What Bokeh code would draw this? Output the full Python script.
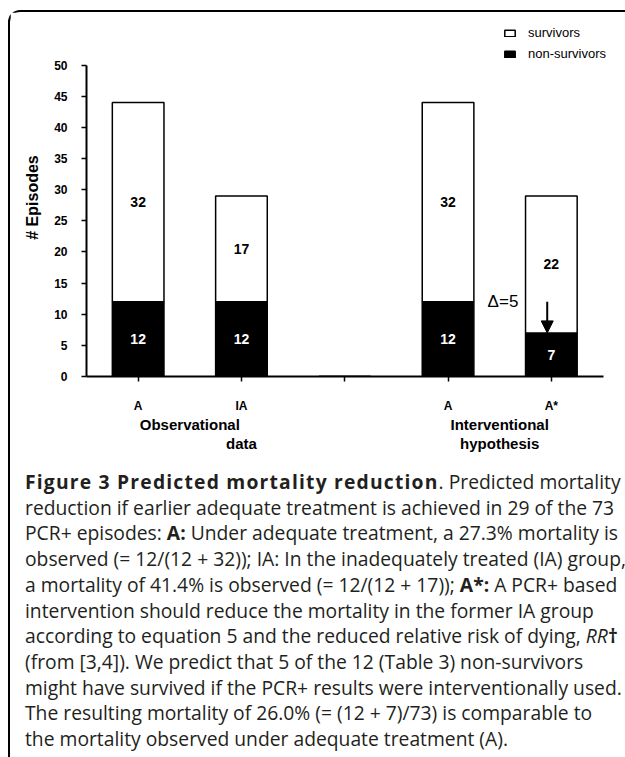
from bokeh.plotting import figure
from bokeh.models import (Range1d, FixedTicker, Label, Arrow, NormalHead, Legend,
                          LegendItem, ColumnDataSource, Div, LinearAxis)
from bokeh.layouts import column
from bokeh.embed import file_html
from bokeh.resources import INLINE
from bokeh.core.properties import value

# ---------------- data ----------------
categories = ["A", "IA", "", "A", "A*"]
non_survivors = [12, 12, 0, 12, 7]
survivors = [32, 17, 0, 32, 22]
y_ticks = [0, 5, 10, 15, 20, 25, 30, 35, 40, 45, 50]
group_top = ["Observational", "Interventional"]
group_bottom = ["data", "hypothesis"]
delta_from = 12   # non-survivors IA (observed)
delta_to = 7      # non-survivors A* (predicted)

FONT = "Liberation Sans"

x = list(range(1, len(categories) + 1))
src = ColumnDataSource(dict(x=x, non_survivors=non_survivors, survivors=survivors))

p = figure(width=614, height=444, output_backend="svg", toolbar_location=None,
           x_range=Range1d(0.5, len(categories) + 0.65), y_range=Range1d(0, 57.5),
           min_border_left=76, min_border_right=6, min_border_top=6, min_border_bottom=80)
p.outline_line_color = None
p.xgrid.visible = False
p.ygrid.visible = False
p.background_fill_color = "white"
p.border_fill_color = "white"

rs = p.vbar_stack(["non_survivors", "survivors"], x="x", width=0.5, source=src,
                  fill_color=["black", "white"], line_color="black", line_width=1.5)

# value labels inside the bars
lx, ly, lt, lc = [], [], [], []
for xi, ns, sv in zip(x, non_survivors, survivors):
    if ns:
        lx.append(xi); ly.append(ns / 2); lt.append(str(ns)); lc.append("white")
    if sv:
        lx.append(xi); ly.append(ns + sv / 2); lt.append(str(sv)); lc.append("black")
p.text(x=lx, y=ly, text=lt, text_color=lc, text_font=value(FONT), text_font_style="bold",
       text_font_size="14px", text_align="center", text_baseline="middle")

# axes
ya = p.yaxis[0]
ya.bounds = (0, 50)
ya.ticker = FixedTicker(ticks=y_ticks)
ya.minor_tick_line_color = None
ya.major_tick_in = 0
ya.major_tick_out = 5
ya.major_tick_line_width = 1.5
ya.axis_line_width = 2
ya.major_label_text_font = FONT
ya.major_label_text_font_style = "bold"
ya.major_label_text_font_size = "12px"
ya.major_label_text_color = "black"
ya.major_label_standoff = 14
ya.axis_label = "# Episodes"
ya.axis_label_text_font = FONT
ya.axis_label_text_font_style = "bold"
ya.axis_label_text_font_size = "16px"
ya.axis_label_text_color = "black"
ya.axis_label_standoff = 10

xa = p.xaxis[0]
xa.bounds = (0.5, len(categories) + 0.5)
xa.ticker = FixedTicker(ticks=x)
xa.major_label_overrides = {xi: c for xi, c in zip(x, categories)}
xa.minor_tick_line_color = None
xa.major_tick_in = 0
xa.major_tick_out = 5
xa.major_tick_line_width = 1.5
xa.axis_line_width = 2
xa.major_label_text_font = FONT
xa.major_label_text_font_style = "bold"
xa.major_label_text_font_size = "12px"
xa.major_label_text_color = "black"
xa.major_label_standoff = 17

# group labels: two extra label-only axes below the category axis
g_top_pos = [(x[0] + x[1]) / 2, (x[3] + x[4]) / 2]
g_bot_pos = [x[1], (x[3] + x[4]) / 2]
for pos, names, standoff in [(g_top_pos, group_top, 0), (g_bot_pos, group_bottom, -1)]:
    ga = LinearAxis(ticker=FixedTicker(ticks=pos),
                    major_label_overrides={pp: n for pp, n in zip(pos, names)},
                    axis_line_color=None, major_tick_line_color=None, minor_tick_line_color=None,
                    major_tick_in=0, major_tick_out=0, major_label_standoff=standoff,
                    major_label_text_font=FONT, major_label_text_font_style="bold",
                    major_label_text_font_size="15px", major_label_text_color="black")
    p.add_layout(ga, "below")

# delta arrow
ax = x[-1] - 0.04
p.add_layout(Arrow(end=NormalHead(size=12, fill_color="black", line_color="black"),
                   x_start=ax, y_start=delta_from, x_end=ax, y_end=delta_to,
                   line_width=2, line_color="black"))
p.add_layout(Label(x=x[-1], y=delta_from, x_offset=-33, text="\u0394=%d" % (delta_from - delta_to),
                   text_font=FONT, text_font_size="17px", text_color="black",
                   text_align="right", text_baseline="middle"))

legend = Legend(items=[LegendItem(label="survivors", renderers=[rs[1]]),
                       LegendItem(label="non-survivors", renderers=[rs[0]])],
                location=(417, 315), glyph_width=13, glyph_height=8, label_standoff=12,
                label_text_font=FONT, label_text_font_size="13px", label_height=14,
                label_text_color="black",
                spacing=6, padding=0, margin=0, border_line_color=None,
                background_fill_alpha=0)
p.add_layout(legend)

caption = (
    "<div style=\"font-family:'Open Sans',sans-serif;font-size:19.3px;line-height:25.7px;"
    "color:#231f20;white-space:nowrap;padding-left:10px;padding-top:8px;\">"
    "<b style=\"letter-spacing:1.2px\">Figure 3 Predicted mortality reduction</b>. Predicted mortality<br>"
    "reduction if earlier adequate treatment is achieved in 29 of the 73<br>"
    "PCR+ episodes: <b>A:</b> Under adequate treatment, a 27.3% mortality is<br>"
    "observed (= 12/(12 + 32)); IA: In the inadequately treated (IA) group,<br>"
    "a mortality of 41.4% is observed (= 12/(12 + 17)); <b>A*:</b> A PCR+ based<br>"
    "intervention should reduce the mortality in the former IA group<br>"
    "according to equation 5 and the reduced relative risk of dying, <i>RR</i><b>\u2020</b><br>"
    "(from [3,4]). We predict that 5 of the 12 (Table 3) non-survivors<br>"
    "might have survived if the PCR+ results were interventionally used.<br>"
    "The resulting mortality of 26.0% (= (12 + 7)/73) is comparable to<br>"
    "the mortality observed under adequate treatment (A)."
    "</div>"
)
div = Div(text=caption, width=614, height=299)

layout = column(p, div, styles={"border-left": "2px solid black", "border-top": "2px solid black",
                                "border-top-left-radius": "12px", "margin-top": "10px",
                                "margin-left": "8px"})

open("out.html", "w").write(file_html(layout, INLINE))
